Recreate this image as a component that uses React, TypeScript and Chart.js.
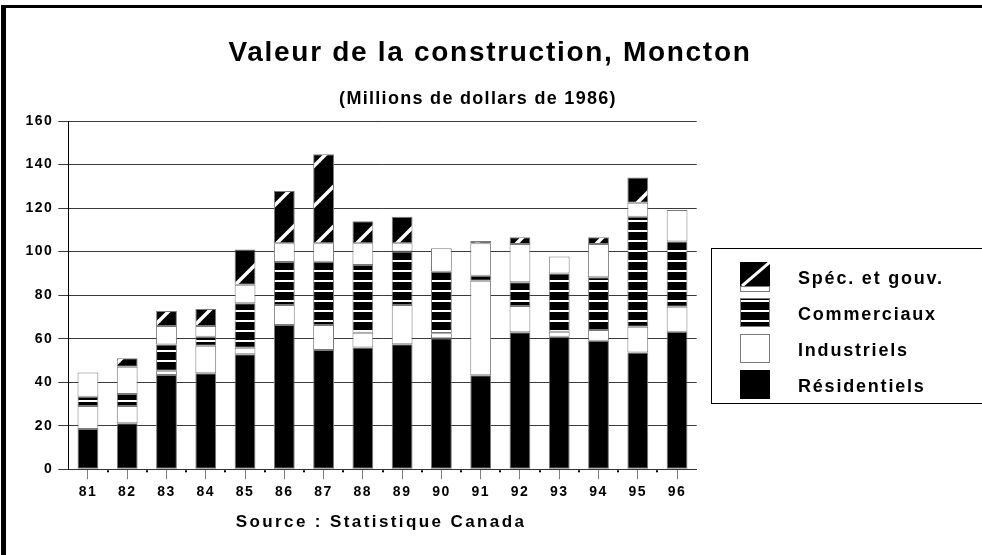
import { useEffect, useRef } from 'react';
import { Chart, registerables } from 'chart.js';

Chart.register(...registerables);

// ---- Data (millions de dollars de 1986) ----
const years = ['81', '82', '83', '84', '85', '86', '87', '88', '89', '90', '91', '92', '93', '94', '95', '96'];
const residentiels = [18.5, 21.1, 43.3, 44.1, 52.8, 66.3, 54.8, 56.0, 57.4, 60.2, 43.2, 62.9, 60.9, 59.1, 53.6, 63.2];
const industriels = [10.6, 8.0, 2.0, 12.7, 3.0, 9.2, 11.5, 6.7, 18.1, 2.3, 43.4, 12.1, 2.3, 4.9, 11.9, 11.5];
const commerciaux = [4.2, 5.5, 12.0, 4.1, 20.5, 19.7, 29.1, 31.1, 24.5, 28.3, 2.3, 10.9, 26.8, 24.2, 50.5, 29.9];
// "Spéc. et gouv." is drawn in two parts: a white part and a hatched part
const specGouvBlanc = [11.2, 12.5, 8.5, 4.9, 8.5, 8.6, 8.4, 10.0, 3.8, 10.7, 14.9, 17.6, 7.7, 15.3, 6.5, 14.5];
const specGouvHachure = [0, 3.9, 6.9, 7.8, 16.2, 24.0, 40.9, 10.2, 12.2, 0, 1.1, 3.1, 0, 3.1, 11.6, 0];
const yMin = 0;
const yMax = 160;
const yStep = 20;

const TITLE = 'Valeur de la construction, Moncton';
const SUBTITLE = '(Millions de dollars de 1986)';
const SOURCE = 'Source : Statistique Canada';
const legendLabels = ['Spéc. et gouv.', 'Commerciaux', 'Industriels', 'Résidentiels'];

const FONT = '"Liberation Sans", Arial, sans-serif';

function makeStripes(): CanvasPattern {
  const c = document.createElement('canvas');
  c.width = 10;
  c.height = 10;
  const g = c.getContext('2d')!;
  g.fillStyle = '#000';
  g.fillRect(0, 0, 10, 10);
  g.fillStyle = '#fff';
  g.fillRect(0, 0, 10, 2);
  return g.createPattern(c, 'repeat')!;
}

function makeDiag(): CanvasPattern {
  const c = document.createElement('canvas');
  c.width = 40;
  c.height = 40;
  const g = c.getContext('2d')!;
  g.fillStyle = '#000';
  g.fillRect(0, 0, 40, 40);
  g.strokeStyle = '#fff';
  g.lineWidth = 3.5;
  for (const off of [-40, 0, 40]) {
    g.beginPath();
    g.moveTo(-5 + off, 45);
    g.lineTo(45 + off, -5);
    g.stroke();
  }
  return g.createPattern(c, 'repeat')!;
}

function spacedText(ctx: CanvasRenderingContext2D, text: string, x: number, y: number, size: number, spacing: number, align: CanvasTextAlign) {
  ctx.save();
  ctx.font = `bold ${size}px ${FONT}`;
  (ctx as any).letterSpacing = `${spacing}px`;
  ctx.fillStyle = '#000';
  ctx.textAlign = align;
  ctx.textBaseline = 'alphabetic';
  ctx.fillText(text, x, y);
  ctx.restore();
}

export default function App() {
  const ref = useRef<HTMLCanvasElement>(null);

  useEffect(() => {
    const canvas = ref.current!;
    const stripes = makeStripes();
    const diag = makeDiag();

    const decor = {
      id: 'decor',
      beforeDraw(chart: any) {
        const ctx = chart.ctx as CanvasRenderingContext2D;
        ctx.save();
        ctx.fillStyle = '#fff';
        ctx.fillRect(0, 0, chart.width, chart.height);
        ctx.restore();
        (ctx as any).letterSpacing = '1.5px';
      },
      afterDraw(chart: any) {
        const ctx = chart.ctx as CanvasRenderingContext2D;
        (ctx as any).letterSpacing = '0px';
        // frame
        ctx.save();
        ctx.fillStyle = '#000';
        ctx.fillRect(1, 5, 5, 550);
        ctx.fillRect(1, 5, 981, 3);

        // minor dots between categories on the x axis
        const xs = chart.scales.x;
        const bottom = chart.chartArea.bottom;
        const n = years.length;
        for (let i = 1; i < n; i++) {
          const px = (xs.getPixelForValue(i - 1) + xs.getPixelForValue(i)) / 2;
          ctx.fillRect(Math.round(px) - 1, bottom + 1, 2, 2);
        }
        ctx.restore();

        spacedText(ctx, TITLE, 490, 61, 28, 1.7, 'center');
        spacedText(ctx, SUBTITLE, 478, 103.5, 18, 1.3, 'center');
        spacedText(ctx, SOURCE, 381, 527, 17, 2.4, 'center');

        // legend box
        ctx.save();
        ctx.strokeStyle = '#000';
        ctx.lineWidth = 1;
        ctx.strokeRect(711.5, 248.5, 300, 155);
        const sx = 740;
        const sw = 30;
        const tops = [262, 298, 334, 370];
        // Spéc. et gouv.
        ctx.fillStyle = '#000';
        ctx.fillRect(sx, tops[0], sw, 24);
        ctx.save();
        ctx.beginPath();
        ctx.rect(sx, tops[0], sw, 24);
        ctx.clip();
        ctx.strokeStyle = '#fff';
        ctx.lineWidth = 3;
        ctx.beginPath();
        ctx.moveTo(sx + 2, tops[0] + 24);
        ctx.lineTo(sx + sw, tops[0]);
        ctx.stroke();
        ctx.restore();
        ctx.fillStyle = '#fff';
        ctx.fillRect(sx, tops[0] + 24, sw, 6);
        ctx.strokeStyle = '#7a7a7a';
        ctx.strokeRect(sx + 0.5, tops[0] + 24.5, sw - 1, 5);
        // Commerciaux
        ctx.fillStyle = stripes;
        ctx.fillRect(sx, tops[1], sw, 29);
        ctx.strokeStyle = '#7a7a7a';
        ctx.strokeRect(sx + 0.5, tops[1] + 0.5, sw - 1, 28);
        // Industriels
        ctx.fillStyle = '#fff';
        ctx.fillRect(sx, tops[2], sw, 29);
        ctx.strokeRect(sx + 0.5, tops[2] + 0.5, sw - 1, 28);
        // Résidentiels
        ctx.fillStyle = '#000';
        ctx.fillRect(sx, tops[3], sw, 29);
        ctx.restore();

        legendLabels.forEach((lab, i) => {
          spacedText(ctx, lab, 798, tops[i] + 21.5, 18, 1.8, 'left');
        });
      },
    };

    const common = {
      borderColor: '#7a7a7a',
      borderWidth: 1,
      borderSkipped: false as const,
      barPercentage: 0.53,
      categoryPercentage: 1,
    };

    const chart = new Chart(canvas, {
      type: 'bar',
      data: {
        labels: years,
        datasets: [
          { label: 'Résidentiels', data: residentiels, backgroundColor: '#000', ...common },
          { label: 'Industriels', data: industriels, backgroundColor: '#fff', ...common },
          { label: 'Commerciaux', data: commerciaux, backgroundColor: stripes, ...common },
          { label: 'Spéc. et gouv.', data: specGouvBlanc, backgroundColor: '#fff', ...common },
          { label: 'Spéc. et gouv.', data: specGouvHachure, backgroundColor: diag, ...common },
        ],
      },
      options: {
        responsive: false,
        animation: false,
        events: [],
        layout: { padding: { left: 0, right: 285.3, top: 121, bottom: 0 } },
        plugins: {
          legend: { display: false },
          title: { display: false },
          tooltip: { enabled: false },
        },
        scales: {
          x: {
            stacked: true,
            grid: {
              display: true,
              drawOnChartArea: false,
              drawTicks: true,
              tickLength: 10,
              offset: false,
              color: '#808080',
            },
            border: { display: true, color: '#333' },
            ticks: {
              color: '#000',
              padding: 4,
              font: { family: FONT, weight: 'bold', size: 14 },
              maxRotation: 0,
            },
            afterFit: (s: any) => {
              s.height = 85.7;
            },
          },
          y: {
            stacked: true,
            min: yMin,
            max: yMax,
            ticks: {
              stepSize: yStep,
              color: '#000',
              padding: 5,
              font: { family: FONT, weight: 'bold', size: 14 },
            },
            grid: { color: '#3a3a3a', tickLength: 10, drawTicks: true },
            border: { display: true, color: '#000' },
            afterFit: (s: any) => {
              s.width = 68.3;
            },
          },
        },
      },
      plugins: [decor],
    });

    return () => chart.destroy();
  }, []);

  return (
    <div style={{ position: 'fixed', left: 0, top: 0, width: 982, height: 555, background: '#fff' }}>
      <canvas ref={ref} width={982} height={555} style={{ width: 982, height: 555, display: 'block' }} />
    </div>
  );
}
